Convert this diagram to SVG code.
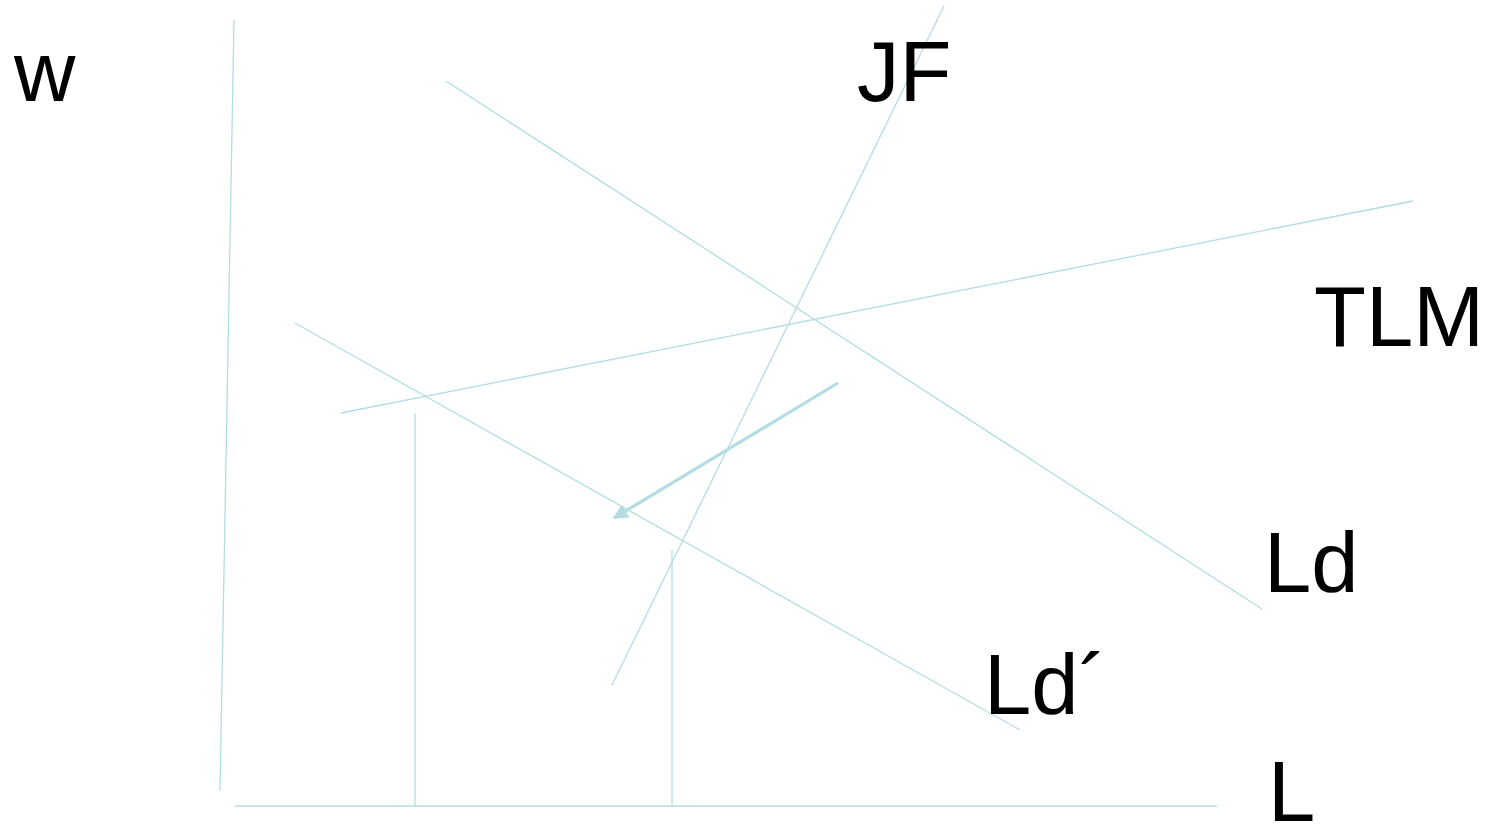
<svg xmlns="http://www.w3.org/2000/svg" width="1486" height="840" viewBox="0 0 1486 840">
<style>
.ln{stroke:#b3dde0;stroke-width:1.3;fill:none}
.arr{stroke:#b3dde0;stroke-width:3.2;fill:none}
.lbl{font-family:"Liberation Sans",Arial,sans-serif;font-size:85px;fill:#000}
</style>
<defs>
<marker id="ah" viewBox="0 0 10 10" refX="9" refY="5" markerWidth="20" markerHeight="15" markerUnits="userSpaceOnUse" orient="auto">
<path d="M0,0 L10,5 L0,10 z" fill="#b3dde0"/>
</marker>
</defs>
<rect width="1486" height="840" fill="#fff"/>
<g id="connectors">
<line class="ln" x1="234" y1="20" x2="220" y2="791"/>
<line class="ln" x1="235" y1="806" x2="1217" y2="806"/>
<line class="ln" x1="446" y1="81" x2="1262" y2="609"/>
<line class="ln" x1="295" y1="323" x2="1020" y2="730"/>
<line class="ln" x1="944" y1="6" x2="612" y2="685"/>
<line class="ln" x1="341" y1="413" x2="1413" y2="201"/>
<line class="ln" x1="415" y1="413" x2="415" y2="806"/>
<line class="ln" x1="672" y1="550" x2="672" y2="806"/>
<line class="arr" x1="838" y1="383" x2="614" y2="518" marker-end="url(#ah)"/>
</g>
<g id="label-w"><text class="lbl" x="14" y="101">w</text></g>
<g id="label-JF"><text class="lbl" x="857" y="101">JF</text></g>
<g id="label-TLM"><text class="lbl" x="1314" y="346">TLM</text></g>
<g id="label-Ld"><text class="lbl" x="1264" y="592">Ld</text></g>
<g id="label-Ldp"><text class="lbl" x="984" y="714">Ld´</text></g>
<g id="label-L"><text class="lbl" x="1268" y="821">L</text></g>
</svg>
